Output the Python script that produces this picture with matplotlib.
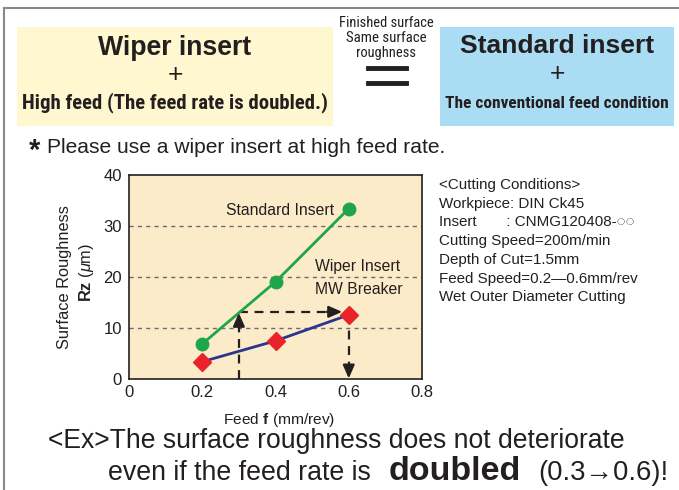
import matplotlib
matplotlib.use("Agg")
import matplotlib.pyplot as plt
from matplotlib.patches import Rectangle
from matplotlib.lines import Line2D
from matplotlib import font_manager

# ---- data ----
feed = [0.2, 0.4, 0.6]
standard_rz = [6.8, 19.0, 33.4]
wiper_rz = [3.3, 7.4, 12.5]
x_ticks = [0, 0.2, 0.4, 0.6, 0.8]
x_tick_labels = ['0', '0.2', '0.4', '0.6', '0.8']
y_ticks = [0, 10, 20, 30, 40]
arrow_feed_low = 0.3
arrow_feed_high = 0.6
arrow_level = 13.1
conditions = ["<Cutting Conditions>", "Workpiece: DIN Ck45", "Insert       : CNMG120408-\u25cc\u25cc",
              "Cutting Speed=200m/min", "Depth of Cut=1.5mm", "Feed Speed=0.2\u20140.6mm/rev",
              "Wet Outer Diameter Cutting"]

names = {f.name for f in font_manager.fontManager.ttflist}
NARROW = next((n for n in ["Roboto Condensed", "PT Sans Narrow", "Archivo Narrow",
                           "Liberation Sans Narrow"] if n in names), "Liberation Sans")
SANS = ["Liberation Sans", "DejaVu Sans"]
plt.rcParams['font.family'] = SANS
plt.rcParams['mathtext.fontset'] = 'custom'
plt.rcParams['mathtext.rm'] = 'Liberation Sans'
plt.rcParams['mathtext.bf'] = 'Liberation Sans:bold'
plt.rcParams['mathtext.it'] = 'Liberation Sans:italic'

INK = '#231f20'
W, H = 679, 490
fig = plt.figure(figsize=(W / 100, H / 100), dpi=100)
renderer = fig.canvas.get_renderer()


def fx(x):
    return x / W


def fy(y):
    return 1 - y / H


def fit(x, y, s, width, ha='left', va='center', **kw):
    kw.setdefault('color', INK)
    t = fig.text(fx(x), fy(y), s, ha=ha, va=va, fontsize=10, **kw)
    w = t.get_window_extent(renderer).width
    t.set_fontsize(10 * width / w)
    return t


# outer frame
fig.add_artist(Line2D([fx(4), fx(679)], [fy(8), fy(8)], color='#8a8a8a', lw=1.5))
fig.add_artist(Line2D([fx(4), fx(4)], [fy(8), fy(490)], color='#8a8a8a', lw=1.5))

# top boxes
fig.add_artist(Rectangle((fx(17), fy(126)), fx(333) - fx(17), fy(27) - fy(126),
                         facecolor='#FFF7D0', edgecolor='none'))
fig.add_artist(Rectangle((fx(440), fy(126)), fx(674) - fx(440), fy(27) - fy(126),
                         facecolor='#AADDF4', edgecolor='none'))

fit(175, 48, "Wiper insert", 154, ha='center', fontweight='bold')
fig.text(fx(175), fy(75), "+", ha='center', va='center', fontsize=19, color=INK)
fit(175, 103, "High feed (The feed rate is doubled.)", 308, ha='center',
    fontweight='bold', family=NARROW)

fit(557, 46, "Standard insert", 195, ha='center', fontweight='bold')
fig.text(fx(557), fy(74), "+", ha='center', va='center', fontsize=19, color=INK)
fit(557, 103, "The conventional feed condition", 223, ha='center', fontweight='bold',
    family=NARROW)

fit(386, 23, "Finished surface", 94, ha='center', family=NARROW)
fit(386, 38, "Same surface", 80, ha='center', family=NARROW)
fit(386, 53, "roughness", 60, ha='center', family=NARROW)
fig.add_artist(Line2D([fx(368), fx(406)], [fy(68), fy(68)], color=INK, lw=3.5))
fig.add_artist(Line2D([fx(368), fx(406)], [fy(83), fy(83)], color=INK, lw=3.5))

fig.text(fx(29), fy(151), "*", ha='left', va='center', fontsize=21, fontweight='bold',
         color=INK)
fit(47, 147, "Please use a wiper insert at high feed rate.", 399)

# ---- chart ----
ax = fig.add_axes([fx(129), fy(378.5), fx(422) - fx(129), fy(175) - fy(378.5)])
ax.set_facecolor('#FCEBC8')
ax.set_xlim(0, 0.8)
ax.set_ylim(0, 40)
ax.set_xticks(x_ticks)
ax.set_yticks(y_ticks)
ax.set_xticklabels(x_tick_labels)
ax.tick_params(length=0, labelsize=12, labelcolor=INK, pad=5)
for sp in ax.spines.values():
    sp.set_color(INK)
    sp.set_linewidth(1.2)
for yv in [10, 20, 30]:
    ax.axhline(yv, color='#6d6d6d', lw=1, ls=(0, (3, 3)), zorder=1)

ax.plot(feed, standard_rz, color='#1FA64A', lw=2, marker='o', ms=9, zorder=3)
ax.plot(feed, wiper_rz, color='#2B3590', lw=2, marker='D', ms=9,
        markerfacecolor='#E8232A', markeredgecolor='#E8232A', zorder=3)

# dashed arrows
dash = dict(color=INK, lw=1.6, ls=(0, (4, 3)), zorder=2)
ax.plot([arrow_feed_low, arrow_feed_low], [0, arrow_level - 1.5], **dash)
ax.plot([arrow_feed_low, arrow_feed_high - 0.04], [arrow_level, arrow_level], **dash)
ax.plot([arrow_feed_high, arrow_feed_high], [wiper_rz[-1], 1.5], **dash)
hp = dict(arrowstyle='-|>,head_length=0.8,head_width=0.35', color=INK, lw=1.6,
          shrinkA=0, shrinkB=0)
ax.annotate('', xy=(arrow_feed_low, arrow_level - 0.2),
            xytext=(arrow_feed_low, arrow_level - 2.6), arrowprops=hp, zorder=4)
ax.annotate('', xy=(arrow_feed_high - 0.018, arrow_level),
            xytext=(arrow_feed_high - 0.06, arrow_level), arrowprops=hp, zorder=4)
ax.annotate('', xy=(arrow_feed_high, 0), xytext=(arrow_feed_high, 2.6), arrowprops=hp,
            zorder=4)

ax.text(0.412, 33.0, "Standard Insert", ha='center', va='center', fontsize=11.3, color=INK)
ax.text(0.625, 22.1, "Wiper Insert", ha='center', va='center', fontsize=11.3, color=INK)
ax.text(0.627, 17.4, "MW Breaker", ha='center', va='center', fontsize=11.3, color=INK)

fig.text(fx(64), fy(277), "Surface Roughness", rotation=90, ha='center', va='center',
         fontsize=11.8, color=INK)
fig.text(fx(86), fy(272), r"$\mathbf{Rz}$ ($\mathit{\mu}$m)", rotation=90, ha='center',
         va='center', fontsize=11.8, color=INK)
fit(279, 420, r"Feed $\mathbf{f}$ (mm/rev)", 112, ha='center')

# conditions
t0 = fit(439, 185, conditions[0], 141)
cs = t0.get_fontsize()
for i, t in enumerate(conditions[1:], start=1):
    fig.text(fx(439), fy(185 + 18.7 * i), t, ha='left', va='center', fontsize=cs,
             family=['Liberation Sans', 'DejaVu Sans'], color=INK)

# bottom text
fit(48, 448, "<Ex>The surface roughness does not deteriorate", 578, va='baseline')
fit(108, 480, "even if the feed rate is", 265, va='baseline')
fit(389, 480, "doubled", 133, fontweight='bold', va='baseline')
fit(538, 480, "(0.3\u21920.6)!", 130, va='baseline', family=['Liberation Sans', 'DejaVu Sans'])

fig.savefig("out.png", dpi=100)
